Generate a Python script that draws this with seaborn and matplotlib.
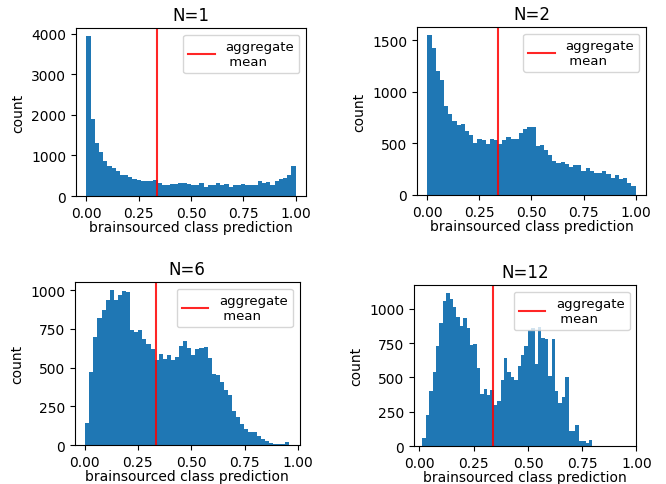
import numpy as np
import pandas as pd
import matplotlib
matplotlib.use('Agg')
import matplotlib.pyplot as plt
import seaborn as sns

# %% Histogram counts (50 bins per panel)
titles = ['N=1', 'N=2', 'N=6', 'N=12']

# bin range (min, max) of the class predictions in each panel
bin_ranges = [(0.0, 1.0), (0.0, 1.0), (0.003, 0.96), (0.014, 0.797)]

counts_n1 = [3950, 1900, 1300, 1080, 870, 750, 690, 610, 530, 520,
             460, 420, 395, 380, 380, 360, 395, 330, 280, 265,
             300, 300, 320, 310, 290, 265, 265, 310, 230, 265,
             265, 310, 265, 295, 230, 265, 265, 290, 265, 265,
             265, 360, 330, 345, 265, 380, 430, 445, 510, 730]

counts_n2 = [1550, 1420, 1200, 1110, 865, 786, 714, 675, 685, 623,
             584, 506, 545, 536, 493, 545, 536, 497, 532, 565,
             545, 539, 600, 640, 660, 660, 474, 480, 438, 390,
             325, 312, 318, 305, 273, 286, 295, 234, 266, 234,
             214, 214, 234, 201, 169, 195, 156, 162, 117, 84]

counts_n6 = [140, 474, 694, 821, 872, 936, 1002, 936, 970, 996,
             990, 745, 728, 745, 681, 655, 617, 549, 587, 553,
             583, 547, 570, 640, 672, 625, 579, 617, 628, 630,
             562, 460, 455, 408, 355, 323, 221, 179, 136, 106,
             85, 81, 57, 36, 26, 13, 9, 9, 9, 21]

counts_n12 = [60, 227, 402, 538, 725, 897, 1053, 1117, 1072, 1012,
              938, 873, 933, 861, 737, 746, 569, 378, 416, 373,
              411, 297, 330, 478, 641, 540, 500, 478, 586, 665,
              730, 845, 860, 600, 870, 790, 780, 510, 780, 400,
              310, 360, 500, 108, 108, 155, 36, 36, 24, 46]

all_counts = [counts_n1, counts_n2, counts_n6, counts_n12]

aggregate_mean = 0.337
xticks = [0.0, 0.25, 0.5, 0.75, 1.0]

# %% Figure with the four panels placed like the reference
fig = plt.figure(figsize=(6.66, 4.85), dpi=100)
positions = [[0.1141, 0.5938, 0.3453, 0.3464],
             [0.6261, 0.5959, 0.3438, 0.3464],
             [0.1126, 0.0804, 0.3371, 0.3361],
             [0.6216, 0.0783, 0.3341, 0.3320]]

for i in range(4):
    ax = fig.add_axes(positions[i])
    lo, hi = bin_ranges[i]
    nbins = len(all_counts[i])
    width = (hi - lo) / nbins
    df = pd.DataFrame({'pred': lo + width * (np.arange(nbins) + 0.5),
                       'n': all_counts[i]})
    sns.histplot(data=df, x='pred', weights='n', bins=nbins,
                 binrange=(lo, hi), ax=ax, color='#1f77b4', alpha=1,
                 linewidth=0)
    ax.axvline(aggregate_mean, color='red', alpha=0.85, linewidth=1.5,
               label='aggregate\n mean')
    ax.set_xticks(xticks)
    ax.set_xticklabels(['%.2f' % t for t in xticks])
    if i == 3:
        ax.set_xlim(-0.025, 1.0)
    ax.set_title(titles[i], fontsize=12)
    ax.set_xlabel('brainsourced class prediction', labelpad=0)
    ax.set_ylabel('count')
    ax.legend(loc='upper right', fontsize=9.5)

fig.savefig('out.png', dpi=100)
